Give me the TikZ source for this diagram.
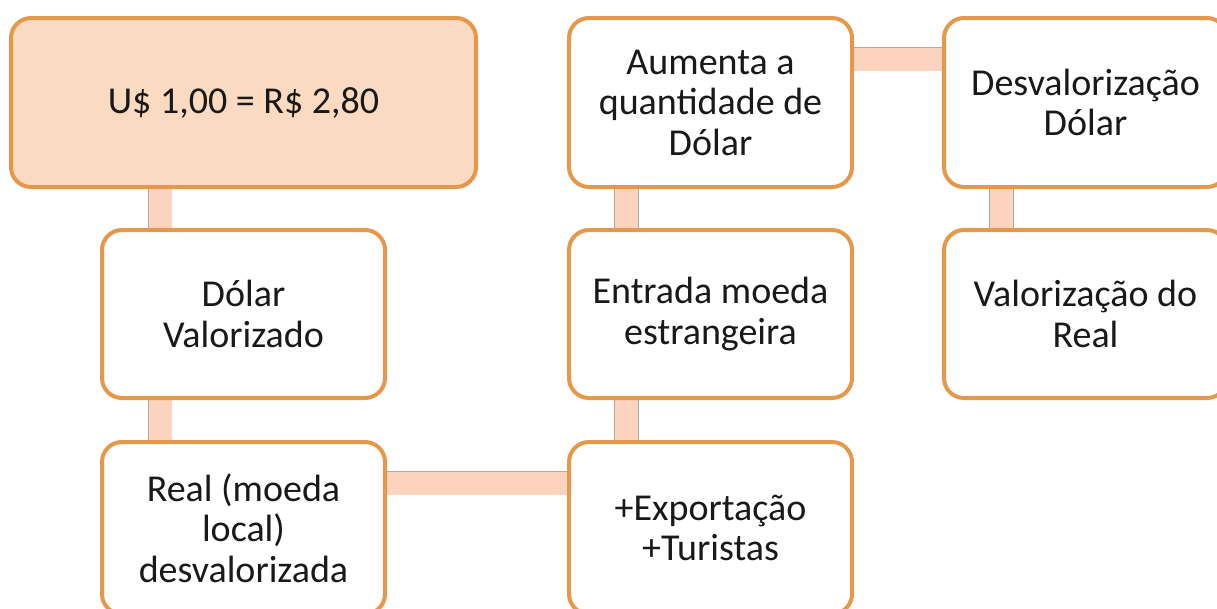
\documentclass[tikz,border=0pt]{standalone}
\usepackage{fontspec}
\setmainfont{Carlito}
\usetikzlibrary{backgrounds}
\definecolor{boxorange}{RGB}{229,152,74}
\definecolor{boxfill}{RGB}{250,218,192}
\definecolor{connfill}{RGB}{251,211,190}
\definecolor{conngray}{RGB}{175,170,165}
\tikzset{
  box/.style={draw=boxorange, line width=4pt, rounded corners=20pt, fill=white,
    minimum width=283pt, minimum height=168pt, inner sep=0pt,
    align=center, font=\fontsize{38}{40.5}\selectfont, text=black!90},
  conn/.style={draw=conngray, line width=0.8pt, double=connfill, double distance=23pt, line cap=butt}
}
\begin{document}
\begin{tikzpicture}[x=1pt,y=-1pt]
\useasboundingbox (0,0) rectangle (1217,608);
\clip (0,0) rectangle (1217,608);
% coordinates for connector lanes
\coordinate (c1) at (160,0);
\coordinate (c2) at (626.5,0);
\coordinate (c3) at (1001.5,0);
\coordinate (r1) at (0,59);
\coordinate (r2) at (0,483);
% nodes
\node[box, fill=boxfill, minimum width=465pt, minimum height=169pt] (A) at (243.5,102.5) {U\$ 1,00 = R\$ 2,80};
\node[box] (B) at (243.5,314) {Dólar\\Valorizado};
\node[box, minimum height=172pt] (C) at (243.5,528) {Real (moeda\\local)\\desvalorizada};
\node[box, minimum height=169pt] (F) at (710.5,102.5) {Aumenta a\\quantidade de\\Dólar};
\node[box] (D) at (710.5,314) {Entrada moeda\\estrangeira};
\node[box, minimum height=172pt] (E) at (710.5,528) {+Exportação\\+Turistas};
\node[box, minimum height=169pt] (G) at (1085.5,102.5) {Desvalorização\\Dólar};
\node[box] (H) at (1085.5,314) {Valorização do\\Real};
% connectors
\begin{scope}[on background layer]
\draw[conn] (A.south -| c1) -- (B.north -| c1);
\draw[conn] (B.south -| c1) -- (C.north -| c1);
\draw[conn] (C.east |- r2) -- (E.west |- r2);
\draw[conn] (E.north -| c2) -- (D.south -| c2);
\draw[conn] (D.north -| c2) -- (F.south -| c2);
\draw[conn] (F.east |- r1) -- (G.west |- r1);
\draw[conn] (G.south -| c3) -- (H.north -| c3);
\end{scope}
\end{tikzpicture}
\end{document}
